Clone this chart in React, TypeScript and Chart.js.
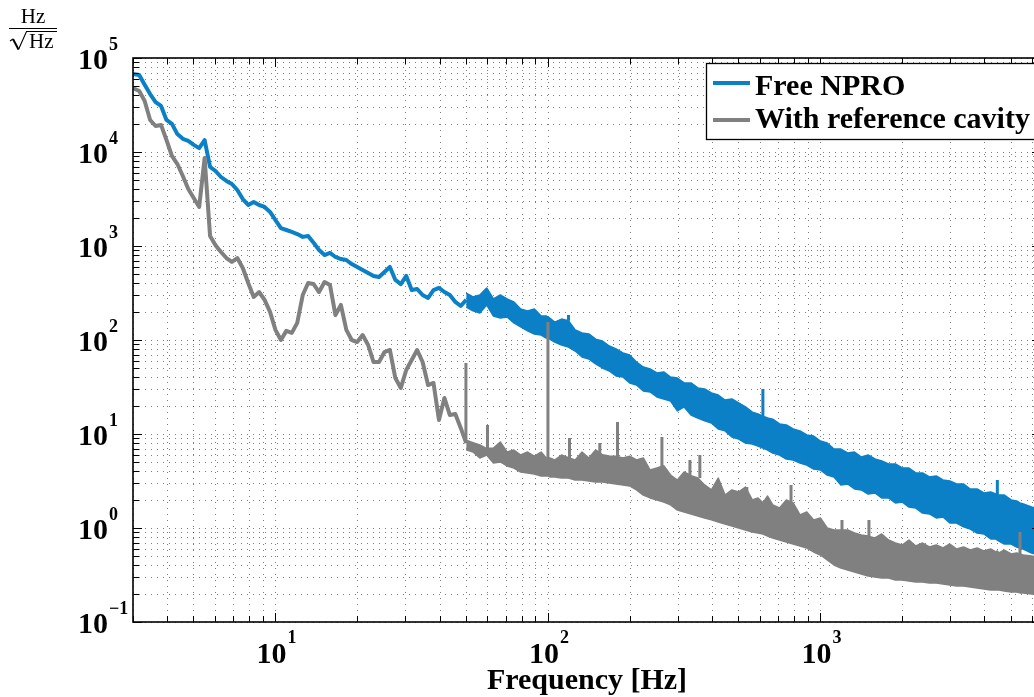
import React, { useEffect, useRef } from 'react';
import { Chart, registerables } from 'chart.js';

Chart.register(...registerables);

// ---------- data (Hz/sqrt(Hz)) ----------
const lineFreq = [
  3.0, 3.162, 3.311, 3.467, 3.631, 3.802, 3.981, 4.169, 4.365, 4.571, 4.786, 5.012, 5.248, 5.495, 5.754,
  6.026, 6.31, 6.607, 6.918, 7.244, 7.586, 7.943, 8.318, 8.71, 9.12, 9.55, 10.0, 10.47, 10.96, 11.48,
  12.02, 12.59, 13.18, 13.8, 14.45, 15.14, 15.85, 16.6, 17.38, 18.2, 19.05, 19.95, 20.89, 21.88, 22.91,
  23.99, 25.12, 26.3, 27.54, 28.84, 30.2, 31.62, 33.11, 34.67, 36.31, 38.02, 39.81, 41.69, 43.65, 45.71,
  47.86, 50.12,
];
const nproLine = [
  6.76e4, 6.6e4, 5.2e4, 4.14e4, 3.4e4, 3.09e4, 2.19e4, 1.99e4, 1.55e4, 1.38e4, 1.31e4, 1.19e4, 1.1e4, 1.34e4, 6930,
  6280, 5420, 4920, 4570, 3940, 3160, 2730, 2940, 2730, 2600, 2300, 1890, 1550, 1480, 1410,
  1340, 1250, 1280, 1080, 907, 802, 843, 764, 727, 710, 643, 598, 556, 516, 480,
  468, 529, 598, 435, 394, 480, 340, 349, 301, 280, 340, 358, 324, 301, 254,
  230, 267,
];
const cavityLine = [
  4.8e4, 4.46e4, 3.49e4, 2.19e4, 1.89e4, 1.94e4, 1.34e4, 9070, 7450, 5560, 4040, 3240, 2600, 8630, 1280,
  1020, 863, 745, 676, 745, 583, 404, 287, 324, 267, 199, 128, 100, 125, 119,
  152, 301, 404, 394, 324, 414, 385, 184, 236, 128, 100, 95.2, 113, 88.5, 58.3,
  58.3, 74.5, 78.3, 39.4, 30.9, 48.0, 61.3, 78.3, 58.3, 33.2, 34.9, 14.1, 24.2, 15.9, 16.3,
  11.6, 8.0,
];

const bandFreq = [
  50.12, 53.09, 56.23, 59.57, 63.1, 66.83, 70.79, 74.99, 79.43, 84.14, 89.13, 94.41, 98.5, 100, 101.5,
  105.9, 112.2, 118.9, 125.9, 133.4, 141.3, 149.6, 158.5, 167.9, 177.8, 188.4, 199.5, 211.3, 223.9, 237.1,
  251.2, 266.1, 281.8, 298.5, 316.2, 335.0, 354.8, 375.8, 398.1, 421.7, 446.7, 473.2, 501.2, 530.9, 562.3,
  590, 615, 640, 668.3, 707.9, 749.9, 794.3, 841.4, 891.3, 944.1, 1000, 1059, 1122, 1189, 1259,
  1334, 1413, 1496, 1585, 1679, 1778, 1884, 1995, 2113, 2239, 2371, 2512, 2661, 2818, 2985,
  3162, 3350, 3548, 3758, 3981, 4217, 4400, 4460, 4520, 4732, 5012, 5250, 5400, 5550, 5957,
  6450,
];
const nproUpper = [
  316, 287, 301, 358, 273, 301, 273, 254, 214, 204, 214, 180, 180, 176, 171,
  155, 167, 160, 128, 119, 116, 102, 97.6, 86.3, 80.2, 72.7, 69.2, 58.3, 51.6, 49.2,
  44.6, 45.7, 40.4, 39.4, 34.9, 34.9, 30.9, 30.1, 27.3, 26.0, 23.0, 23.6, 21.4, 19.4, 17.1,
  16.3, 15.5, 14.8, 14.4, 12.8, 12.5, 11.3, 10.8, 9.76, 9.52, 8.42, 8.02, 6.92, 6.92, 6.28,
  6.43, 5.69, 5.98, 5.42, 5.16, 4.8, 4.8, 4.35, 4.35, 3.85, 3.85, 3.49, 3.58, 3.24, 3.16,
  2.94, 2.94, 2.6, 2.6, 2.36, 2.42, 2.3, 2.27, 2.24, 2.24, 1.99, 1.94, 1.85, 1.8, 1.67,
  1.55,
];
const nproLower = [
  224, 204, 194, 236, 180, 171, 176, 152, 138, 125, 116, 113, 105, 108, 102,
  95.2, 88.5, 84.2, 76.4, 65.9, 62.8, 55.6, 50.4, 46.8, 41.4, 40.4, 34.9, 33.2, 28.7, 28.0,
  24.8, 23.6, 22.4, 17.6, 19.4, 15.9, 14.8, 13.8, 13.1, 11.3, 10.8, 9.29, 8.85, 8.02, 7.83,
  7.45, 7.1, 6.76, 6.28, 5.98, 5.42, 5.29, 4.92, 4.68, 4.24, 4.14, 3.66, 3.49, 2.87, 2.94,
  2.6, 2.54, 2.3, 2.36, 2.09, 2.09, 1.85, 1.89, 1.67, 1.63, 1.44, 1.41, 1.28, 1.31, 1.13,
  1.13, 1.03, 0.976, 0.885, 0.863, 0.764, 0.764, 0.745, 0.727, 0.676, 0.676, 0.628, 0.613, 0.598, 0.542,
  0.504,
];
const cavityUpper = [
  8.6, 8.1, 7.64, 7.0, 7.1, 8.22, 6.43, 6.76, 5.98, 6.43, 5.83, 6.43, 5.56, 5.6, 5.56,
  5.29, 5.98, 5.6, 5.29, 6.43, 5.56, 6.76, 6.0, 5.83, 5.8, 5.56, 5.8, 5.29, 5.56, 4.14,
  4.35, 4.6, 3.66, 3.24, 3.94, 3.6, 3.4, 2.87, 2.54, 3.4, 2.24, 2.54, 2.42, 2.73, 1.99,
  2.09, 1.85, 2.19, 1.76, 1.63, 1.99, 1.85, 1.38, 1.48, 1.22, 1.28, 1.0, 0.952, 0.95, 0.952,
  0.885, 0.842, 0.82, 0.783, 0.863, 0.745, 0.692, 0.659, 0.745, 0.643, 0.692, 0.628, 0.659, 0.613, 0.676,
  0.598, 0.628, 0.583, 0.613, 0.569, 0.598, 0.556, 0.569, 0.542, 0.583, 0.529, 0.542, 0.53, 0.516, 0.504,
  0.48,
];
const cavityLower = [
  6.8, 6.43, 5.56, 5.98, 4.92, 5.04, 4.57, 4.35, 3.94, 3.85, 3.75, 3.58, 3.58, 3.58, 3.49,
  3.49, 3.4, 3.4, 3.24, 3.24, 3.16, 3.09, 3.09, 3.01, 2.94, 2.87, 2.8, 2.54, 2.24, 2.09,
  1.99, 1.89, 1.76, 1.55, 1.48, 1.41, 1.34, 1.28, 1.22, 1.16, 1.1, 1.05, 1.0, 0.952, 0.907,
  0.885, 0.863, 0.822, 0.783, 0.745, 0.71, 0.676, 0.643, 0.613, 0.556, 0.516, 0.457, 0.404, 0.375, 0.358,
  0.34, 0.324, 0.309, 0.301, 0.294, 0.294, 0.28, 0.28, 0.273, 0.267, 0.267, 0.26, 0.26, 0.254, 0.248,
  0.242, 0.242, 0.236, 0.23, 0.224, 0.219, 0.219, 0.219, 0.219, 0.214, 0.209, 0.209, 0.204, 0.204, 0.199,
  0.194,
];

// narrow line peaks standing out of the noise
const nproSpikeFreq = [119, 615, 4460];
const nproSpikePeak = [184, 30.1, 3.24];
const nproSpikeBase = [160, 15.5, 2.27];
const cavitySpikeFreq = [50, 60, 100, 120, 155, 180, 262, 332, 361, 537, 780, 1200, 1507, 5400];
const cavitySpikePeak = [56.9, 12.5, 155, 9.07, 8.02, 13.4, 9.29, 5.29, 5.98, 2.73, 2.87, 1.22, 1.22, 0.907];
const cavitySpikeBase = [8.0, 6.5, 5.5, 5.5, 5.5, 5.5, 4.3, 3.6, 3.4, 2.2, 1.8, 0.9, 0.8, 0.53];

const seriesNames = ['Free NPRO', 'With reference cavity'];
const seriesColors = ['#0b80c6', '#808080'];
const xMajorTicks = [10, 100, 1000];
const xTickExps = ['1', '2', '3'];
const yMajorTicks = [0.1, 1, 10, 100, 1000, 10000, 100000];
const yTickExps = ['\u22121', '0', '1', '2', '3', '4', '5'];
const xTitle = 'Frequency [Hz]';
const unitTop = 'Hz';
const unitBottom = 'Hz';
const X_MIN = 3;
const X_MAX = 6450;
const Y_MIN = 0.1;
const Y_MAX = 100000;

// ---------- helpers ----------
const pts = (f: number[], v: number[]) => f.map((x, i) => ({ x, y: v[i] }));
const spikePts = (f: number[], base: number[], peak: number[]) => {
  const out: { x: number; y: number | null }[] = [];
  f.forEach((x, i) => {
    out.push({ x, y: base[i] }, { x, y: peak[i] }, { x, y: null });
  });
  return out;
};
const minorGrid = (decades: number[], lo: number, hi: number) => {
  const out: number[] = [];
  decades.forEach((d) => {
    for (let m = 1; m <= 9; m++) {
      const v = +(d * m).toPrecision(6);
      if (v >= lo - 1e-9 && v <= hi + 1e-9) out.push(v);
    }
  });
  return out;
};
const xGrid = minorGrid([1, 10, 100, 1000], X_MIN, X_MAX);
const yGrid = minorGrid([0.1, 1, 10, 100, 1000, 10000, 100000], Y_MIN, Y_MAX);
const isMajor = (v: number, majors: number[]) => majors.some((m) => Math.abs(v / m - 1) < 1e-6);

const FONT = "'Liberation Serif', 'Times New Roman', serif";

const decor = {
  id: 'decor',
  beforeDatasetsDraw(chart: any) {
    const { ctx, chartArea: a } = chart;
    const xs = chart.scales.x;
    const ys = chart.scales.y;
    ctx.save();
    ctx.strokeStyle = 'rgba(0,0,0,0.5)';
    ctx.lineWidth = 1;
    ctx.setLineDash([1, 5]);
    xGrid.forEach((v) => {
      const p = Math.round(xs.getPixelForValue(v)) + 0.5;
      ctx.beginPath();
      ctx.moveTo(p, a.top);
      ctx.lineTo(p, a.bottom);
      ctx.stroke();
    });
    yGrid.forEach((v) => {
      const p = Math.round(ys.getPixelForValue(v)) + 0.5;
      ctx.beginPath();
      ctx.moveTo(a.left, p);
      ctx.lineTo(a.right, p);
      ctx.stroke();
    });
    ctx.restore();
  },
  afterDatasetsDraw(chart: any) {
    const { ctx, chartArea: a } = chart;
    const xs = chart.scales.x;
    const ys = chart.scales.y;
    ctx.save();
    ctx.setLineDash([]);
    ctx.strokeStyle = '#000';
    ctx.lineWidth = 1;
    // inward ticks
    xGrid.forEach((v) => {
      const p = Math.round(xs.getPixelForValue(v)) + 0.5;
      const len = isMajor(v, xMajorTicks) ? 9 : 6;
      ctx.beginPath();
      ctx.moveTo(p, a.bottom);
      ctx.lineTo(p, a.bottom - len);
      ctx.moveTo(p, a.top);
      ctx.lineTo(p, a.top + len);
      ctx.stroke();
    });
    yGrid.forEach((v) => {
      const p = Math.round(ys.getPixelForValue(v)) + 0.5;
      const len = isMajor(v, yMajorTicks) ? 9 : 6;
      ctx.beginPath();
      ctx.moveTo(a.left, p);
      ctx.lineTo(a.left + len, p);
      ctx.moveTo(a.right, p);
      ctx.lineTo(a.right - len, p);
      ctx.stroke();
    });
    // box
    ctx.lineWidth = 1.6;
    ctx.strokeRect(a.left, a.top, a.right - a.left, a.bottom - a.top);

    // tick labels
    ctx.fillStyle = '#000';
    ctx.textBaseline = 'alphabetic';
    yMajorTicks.forEach((v, i) => {
      const p = ys.getPixelForValue(v);
      ctx.font = `bold 30px ${FONT}`;
      ctx.textAlign = 'right';
      ctx.fillText('10', a.left - 25, p + 11);
      ctx.font = `bold 18px ${FONT}`;
      ctx.textAlign = 'left';
      ctx.fillText(yTickExps[i], a.left - 24, p - 8.5);
    });
    xMajorTicks.forEach((v, i) => {
      const p = xs.getPixelForValue(v);
      ctx.font = `bold 30px ${FONT}`;
      ctx.textAlign = 'right';
      ctx.fillText('10', p + 11, a.bottom + 41);
      ctx.font = `bold 18px ${FONT}`;
      ctx.textAlign = 'left';
      ctx.fillText(xTickExps[i], p + 12, a.bottom + 21);
    });

    // axis title
    ctx.font = `bold 30px ${FONT}`;
    ctx.textAlign = 'center';
    ctx.fillText(xTitle, (a.left + a.right) / 2, a.bottom + 67);

    // unit label  Hz / sqrt(Hz)
    ctx.font = `21px ${FONT}`;
    ctx.textAlign = 'center';
    ctx.fillText(unitTop, 33, 23);
    ctx.lineWidth = 1.2;
    ctx.beginPath();
    ctx.moveTo(9, 28.5);
    ctx.lineTo(57, 28.5);
    ctx.stroke();
    // radical sign
    ctx.lineWidth = 1.2;
    ctx.lineJoin = 'miter';
    ctx.beginPath();
    ctx.moveTo(10, 41);
    ctx.lineTo(13, 39);
    ctx.stroke();
    ctx.lineWidth = 2;
    ctx.beginPath();
    ctx.moveTo(13, 39);
    ctx.lineTo(18.5, 49.5);
    ctx.stroke();
    ctx.lineWidth = 1.1;
    ctx.beginPath();
    ctx.moveTo(18.5, 49.5);
    ctx.lineTo(26.5, 31.5);
    ctx.lineTo(57, 31.5);
    ctx.stroke();
    ctx.textAlign = 'left';
    ctx.font = `21px ${FONT}`;
    ctx.fillText(unitBottom, 29, 48);

    // legend
    const lx = 706.5;
    const ly = 63.5;
    ctx.fillStyle = '#fff';
    ctx.fillRect(lx, ly, 331, 76);
    ctx.strokeStyle = '#000';
    ctx.lineWidth = 1.3;
    ctx.strokeRect(lx, ly, 331, 76);
    const rows = [83, 120];
    const bases = [95, 128];
    seriesNames.forEach((name, i) => {
      ctx.strokeStyle = seriesColors[i];
      ctx.lineWidth = 4;
      ctx.beginPath();
      ctx.moveTo(713, rows[i]);
      ctx.lineTo(750, rows[i]);
      ctx.stroke();
      ctx.fillStyle = '#000';
      ctx.font = `bold 30px ${FONT}`;
      ctx.textAlign = 'left';
      ctx.fillText(name, 755, bases[i]);
    });
    ctx.restore();
  },
};

export default function App() {
  const ref = useRef<HTMLCanvasElement>(null);
  useEffect(() => {
    const blue = seriesColors[0];
    const gray = seriesColors[1];
    const base = { pointRadius: 0, tension: 0, borderJoinStyle: 'round' as const };
    const chart = new Chart(ref.current as HTMLCanvasElement, {
      type: 'line',
      data: {
        datasets: [
          { ...base, label: seriesNames[0], data: pts(lineFreq, nproLine), borderColor: blue, borderWidth: 4, fill: false, order: 1 },
          { ...base, label: seriesNames[0] + ' upper', data: pts(bandFreq, nproUpper), borderColor: blue, backgroundColor: blue, borderWidth: 1.5, fill: '+1', order: 1 },
          { ...base, label: seriesNames[0] + ' lower', data: pts(bandFreq, nproLower), borderColor: blue, borderWidth: 1.5, fill: false, order: 1 },
          { ...base, label: seriesNames[0] + ' peaks', data: spikePts(nproSpikeFreq, nproSpikeBase, nproSpikePeak), borderColor: blue, borderWidth: 3, fill: false, spanGaps: false, order: 1 },
          { ...base, label: seriesNames[1], data: pts(lineFreq, cavityLine), borderColor: gray, borderWidth: 4, fill: false, order: 0 },
          { ...base, label: seriesNames[1] + ' upper', data: pts(bandFreq, cavityUpper), borderColor: gray, backgroundColor: gray, borderWidth: 1.5, fill: '+1', order: 0 },
          { ...base, label: seriesNames[1] + ' lower', data: pts(bandFreq, cavityLower), borderColor: gray, borderWidth: 1.5, fill: false, order: 0 },
          { ...base, label: seriesNames[1] + ' peaks', data: spikePts(cavitySpikeFreq, cavitySpikeBase, cavitySpikePeak), borderColor: gray, borderWidth: 3, fill: false, spanGaps: false, order: 0 },
        ],
      },
      options: {
        responsive: false,
        animation: false,
        events: [],
        layout: { padding: { left: 0, top: 58, right: 19, bottom: 0 } },
        plugins: {
          legend: { display: false },
          tooltip: { enabled: false },
          title: { display: false },
        },
        scales: {
          x: {
            type: 'logarithmic',
            min: X_MIN,
            max: X_MAX,
            grid: { display: false },
            border: { display: false },
            ticks: { display: false },
            afterFit: (s: any) => {
              s.height = 75;
            },
          },
          y: {
            type: 'logarithmic',
            min: Y_MIN,
            max: Y_MAX,
            grid: { display: false },
            border: { display: false },
            ticks: { display: false },
            afterFit: (s: any) => {
              s.width = 133;
            },
          },
        },
      },
      plugins: [decor],
    } as any);
    return () => chart.destroy();
  }, []);
  return (
    <div
      style={{
        position: 'fixed',
        left: 0,
        top: 0,
        width: 1034,
        height: 697,
        overflow: 'hidden',
        background: '#fff',
      }}
    >
      <canvas ref={ref} width={1060} height={697} style={{ display: 'block' }} />
    </div>
  );
}
